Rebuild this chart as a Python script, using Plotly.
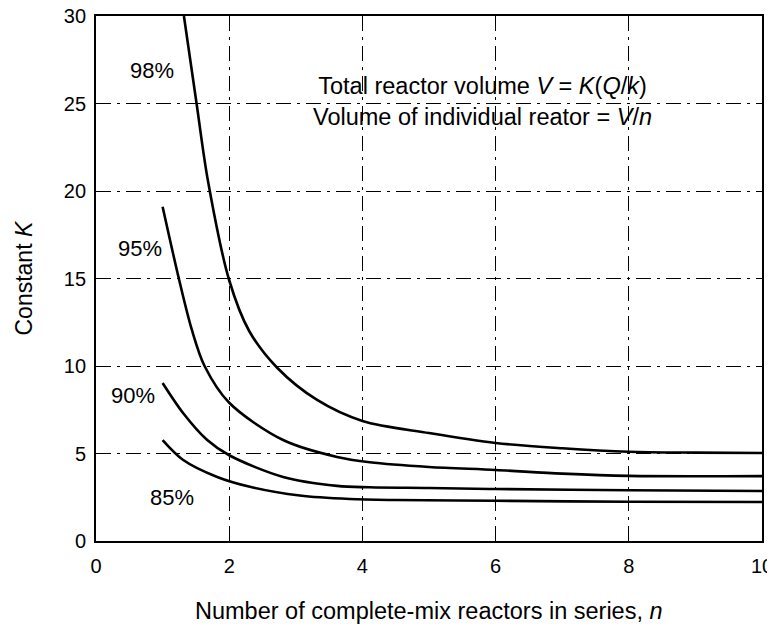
import plotly.graph_objects as go

# Data
n_98 = [1.32, 1.51, 1.68, 2.0, 2.3, 2.72, 3.32, 4.0, 5.0, 6.0, 7.0, 8.0, 9.0, 10.0]
k_98 = [30.0, 25.0, 20.6, 14.9, 12.0, 9.9, 8.06, 6.86, 6.17, 5.6, 5.3, 5.1, 5.05, 5.03]

n_95 = [1.0, 1.25, 1.44, 1.63, 2.0, 2.81, 3.62, 4.11, 5.0, 6.0, 7.0, 8.0, 10.0]
k_95 = [19.1, 14.9, 12.06, 10.0, 7.9, 5.77, 4.8, 4.5, 4.23, 4.06, 3.85, 3.72, 3.71]

n_90 = [1.0, 1.31, 1.67, 2.0, 2.81, 3.62, 4.11, 5.0, 6.0, 8.0, 10.0]
k_90 = [9.03, 7.3, 5.77, 4.9, 3.66, 3.15, 3.07, 3.03, 2.97, 2.9, 2.86]

n_85 = [1.0, 1.31, 1.82, 2.31, 3.06, 3.81, 4.5, 6.0, 8.0, 10.0]
k_85 = [5.77, 4.63, 3.66, 3.1, 2.6, 2.4, 2.34, 2.3, 2.24, 2.23]

series = [("98%", n_98, k_98), ("95%", n_95, k_95), ("90%", n_90, k_90), ("85%", n_85, k_85)]
label_pos = {"98%": (0.84, 26.9), "95%": (0.66, 16.7), "90%": (0.56, 8.3), "85%": (1.14, 2.5)}

x_ticks = [0, 2, 4, 6, 8, 10]
y_ticks = [0, 5, 10, 15, 20, 25, 30]

FONT = "Liberation Sans, Arial, sans-serif"

# page body adds an 8px offset, so the figure is sized to fit the 775x628 window
W, H = 767, 620
ML, MR, MT, MB = 88, 13, 8, 87

fig = go.Figure()
for name, xs, ys in series:
    fig.add_trace(go.Scatter(x=xs, y=ys, mode="lines", name=name,
                             line=dict(color="black", width=2.6, shape="spline", smoothing=0.9),
                             showlegend=False))
    lx, ly = label_pos[name]
    fig.add_annotation(x=lx, y=ly, text=name, showarrow=False,
                       font=dict(size=22, color="black", family=FONT))

fig.add_annotation(x=5.8, y=25.1, xref="x", yref="y", showarrow=False, align="center",
                   yanchor="middle",
                   text="Total reactor volume <i>V</i> = <i>K</i>(<i>Q</i>/<i>k</i>)<br>Volume of individual reator = <i>V</i>/<i>n</i>",
                   font=dict(size=23.5, color="black", family=FONT))

plot_h = H - MT - MB
plot_w = W - ML - MR
# axis titles as paper annotations
fig.add_annotation(x=0.5, xref="paper", y=-(611 - 8 - (H - MB)) / plot_h, yref="paper",
                   showarrow=False, yanchor="middle",
                   text="Number of complete-mix reactors in series, <i>n</i>",
                   font=dict(size=23.5, color="black", family=FONT))
fig.add_annotation(x=-(ML - (23 - 8)) / plot_w, xref="paper", y=0.5, yref="paper",
                   showarrow=False, textangle=-90, xanchor="center",
                   text="Constant <i>K</i>",
                   font=dict(size=23, color="black", family=FONT))

fig.update_layout(
    width=W, height=H,
    margin=dict(l=ML, r=MR, t=MT, b=MB, autoexpand=False),
    paper_bgcolor="white", plot_bgcolor="white",
    font=dict(family=FONT, size=20, color="black"),
    showlegend=False,
)

fig.update_xaxes(range=[0, 10], tickvals=x_ticks, ticktext=[str(v) for v in x_ticks],
                 showline=True, linecolor="black", linewidth=1.8, mirror=True,
                 showgrid=True, gridcolor="black", gridwidth=1, griddash="longdashdot",
                 zeroline=False, ticks="", tickfont=dict(size=20), automargin=False,
                 ticklabelstandoff=6, ticklabeloverflow="allow")
fig.update_yaxes(range=[0, 30], tickvals=y_ticks, ticktext=[str(v) for v in y_ticks],
                 showline=True, linecolor="black", linewidth=1.8, mirror=True,
                 showgrid=True, gridcolor="black", gridwidth=1, griddash="longdashdot",
                 zeroline=False, ticks="", tickfont=dict(size=20), automargin=False,
                 ticklabelstandoff=4, ticklabeloverflow="allow")

fig.write_html("out.html")
